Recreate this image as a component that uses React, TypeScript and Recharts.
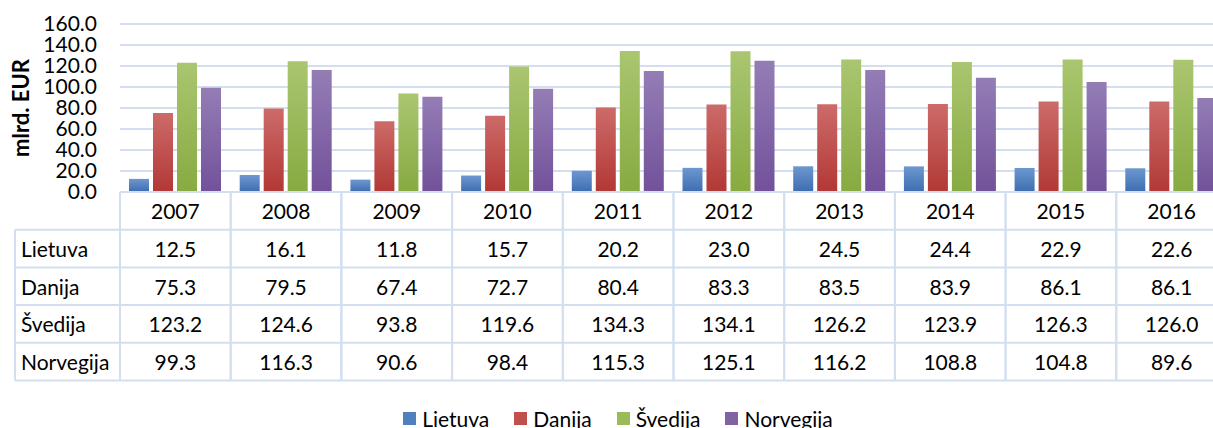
import React from "react";
import { BarChart, Bar, XAxis, YAxis, CartesianGrid, Legend, Label } from "recharts";

const years = ["2007", "2008", "2009", "2010", "2011", "2012", "2013", "2014", "2015", "2016"];
const lietuva = [12.5, 16.1, 11.8, 15.7, 20.2, 23.0, 24.5, 24.4, 22.9, 22.6];
const danija = [75.3, 79.5, 67.4, 72.7, 80.4, 83.3, 83.5, 83.9, 86.1, 86.1];
const svedija = [123.2, 124.6, 93.8, 119.6, 134.3, 134.1, 126.2, 123.9, 126.3, 126.0];
const norvegija = [99.3, 116.3, 90.6, 98.4, 115.3, 125.1, 116.2, 108.8, 104.8, 89.6];
const yTicks = [0, 20, 40, 60, 80, 100, 120, 140, 160];

const seriesDefs = [
  { key: "Lietuva", values: lietuva, color: "#4f81bd", top: "#6d97d0", bottom: "#3d6db0", grad: "gBlue" },
  { key: "Danija", values: danija, color: "#c0504d", top: "#cc6b69", bottom: "#b23834", grad: "gRed" },
  { key: "Švedija", values: svedija, color: "#9bbb59", top: "#aac670", bottom: "#87aa41", grad: "gGreen" },
  { key: "Norvegija", values: norvegija, color: "#8064a2", top: "#947db5", bottom: "#72519a", grad: "gPurple" },
];

const data = years.map((y, i) => {
  const row: Record<string, string | number> = { year: y };
  seriesDefs.forEach((s) => (row[s.key] = s.values[i]));
  return row;
});

const FONT = "Lato, 'Noto Sans', sans-serif";
const FS = 21;
const CHART_W = 1240;
const MARGIN_L = 0;
const MARGIN_R = 13;
const YAXIS_W = 120;
const PLOT_W = CHART_W - MARGIN_L - MARGIN_R - YAXIS_W;
const CELL_W = PLOT_W / years.length;
const ROW_H = 37.7;
const BORDER = "#d3dff0";
const TABLE_LEFT = 15;

const TableTick = (props: any) => {
  const { x, y, payload, index } = props;
  const left = x - CELL_W / 2;
  const right = x + CELL_W / 2;
  const nRows = seriesDefs.length + 1;
  const bottom = y + ROW_H * nRows;
  const els: React.ReactNode[] = [];
  for (let k = 0; k <= nRows; k++) {
    els.push(
      <line key={"h" + k} x1={left} x2={right} y1={y + ROW_H * k} y2={y + ROW_H * k} stroke={BORDER} strokeWidth={2} />
    );
  }
  els.push(<line key="vl" x1={left} x2={left} y1={y} y2={bottom} stroke={BORDER} strokeWidth={2} />);
  els.push(<line key="vr" x1={right} x2={right} y1={y} y2={bottom} stroke={BORDER} strokeWidth={2} />);
  els.push(
    <text key="yr" x={x} y={y + ROW_H / 2} textAnchor="middle" dominantBaseline="central" fontFamily={FONT} fontSize={FS} fill="#000">
      {payload.value}
    </text>
  );
  seriesDefs.forEach((s, r) => {
    els.push(
      <text key={"v" + r} x={x} y={y + ROW_H * (r + 1.5)} textAnchor="middle" dominantBaseline="central" fontFamily={FONT} fontSize={FS} fill="#000">
        {s.values[index].toFixed(1)}
      </text>
    );
  });
  if (index === 0) {
    for (let k = 1; k <= nRows; k++) {
      els.push(
        <line key={"lh" + k} x1={TABLE_LEFT} x2={left} y1={y + ROW_H * k} y2={y + ROW_H * k} stroke={BORDER} strokeWidth={2} />
      );
    }
    els.push(<line key="lv" x1={TABLE_LEFT} x2={TABLE_LEFT} y1={y + ROW_H} y2={bottom} stroke={BORDER} strokeWidth={2} />);
    seriesDefs.forEach((s, r) => {
      els.push(
        <text key={"l" + r} x={TABLE_LEFT + 6} y={y + ROW_H * (r + 1.5)} textAnchor="start" dominantBaseline="central" fontFamily={FONT} fontSize={FS} fill="#000">
          {s.key}
        </text>
      );
    });
  }
  return <g>{els}</g>;
};

const LegendContent = () => (
  <div style={{ display: "flex", justifyContent: "center", alignItems: "center", height: 24, fontFamily: FONT, fontSize: FS, color: "#000", paddingLeft: 23 }}>
    {seriesDefs.map((s, i) => (
      <div key={s.key} style={{ display: "flex", alignItems: "center", marginRight: i === seriesDefs.length - 1 ? 0 : 25 }}>
        <div style={{ width: 13, height: 13, background: s.color, marginRight: 6 }} />
        <span>{s.key}</span>
      </div>
    ))}
  </div>
);

export default function App() {
  return (
    <div style={{ position: "absolute", left: 0, top: 0, width: 1213, height: 428, overflow: "hidden", background: "#fff" }}>
      <BarChart
        width={CHART_W}
        height={428}
        data={data}
        margin={{ top: 24, right: MARGIN_R, left: MARGIN_L, bottom: 24 }}
        barSize={20}
        barGap={4}
      >
        <defs>
          {seriesDefs.map((s) => (
            <linearGradient key={s.grad} id={s.grad} x1="0" y1="0" x2="0" y2="1">
              <stop offset="0%" stopColor={s.top} />
              <stop offset="100%" stopColor={s.bottom} />
            </linearGradient>
          ))}
        </defs>
        <CartesianGrid vertical={false} stroke={BORDER} strokeWidth={2} />
        <XAxis
          dataKey="year"
          height={188}
          interval={0}
          axisLine={false}
          tickLine={false}
          tickSize={0}
          tickMargin={0}
          tick={<TableTick />}
        />
        <YAxis
          width={YAXIS_W}
          domain={[0, 160]}
          ticks={yTicks}
          interval={0}
          axisLine={false}
          tickLine={false}
          tickSize={0}
          tickMargin={23}
          tickFormatter={(v: number) => v.toFixed(1)}
          tick={{ fontFamily: FONT, fontSize: FS, fill: "#000" }}
        >
          <Label
            content={(p: any) => {
              const vb = p.viewBox || { x: 0, y: 24, height: 168 };
              const cx = 20;
              const cy = vb.y + vb.height / 2;
              return (
                <text x={cx} y={cy} transform={`rotate(-90, ${cx}, ${cy})`} textAnchor="middle" dominantBaseline="central" fontFamily={FONT} fontSize={22} fontWeight="bold" fill="#000">
                  mlrd. EUR
                </text>
              );
            }}
          />
        </YAxis>
        <Legend verticalAlign="bottom" content={<LegendContent />} wrapperStyle={{ bottom: -2, left: 0, width: 1213 }} />
        {seriesDefs.map((s) => (
          <Bar key={s.key} dataKey={s.key} fill={`url(#${s.grad})`} isAnimationActive={false} />
        ))}
      </BarChart>
    </div>
  );
}
